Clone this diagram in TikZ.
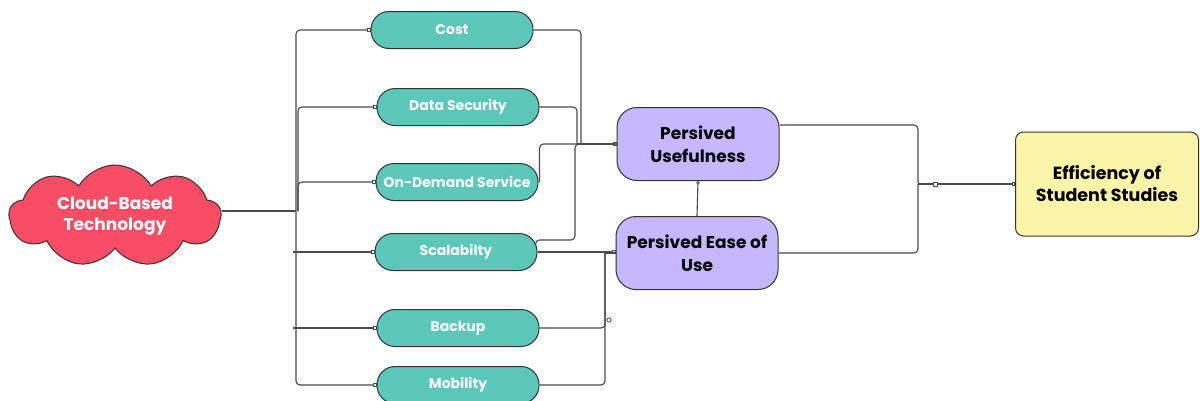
\documentclass[tikz,border=0pt]{standalone}
\usepackage{fontspec}
\setmainfont{Poppins}
\usetikzlibrary{shapes.symbols,arrows.meta,calc}
\definecolor{tealc}{HTML}{5BC8BA}
\definecolor{purp}{HTML}{C5B8FF}
\definecolor{cloudred}{HTML}{F94D66}
\definecolor{yel}{HTML}{FBF5A9}
\definecolor{edge}{HTML}{333333}
\definecolor{wire}{HTML}{4A4A4A}
\tikzset{
  pill/.style={draw=edge, line width=1pt, fill=tealc, rounded corners=18pt,
    minimum width=162pt, minimum height=37pt, inner sep=0pt,
    text=white, font=\bfseries\fontsize{14}{16}\selectfont},
  perc/.style={draw=edge, line width=1pt, fill=purp, rounded corners=20pt,
    minimum width=162pt, minimum height=73pt, inner sep=0pt, align=center,
    text=black, font=\bfseries\fontsize{17}{23}\selectfont},
  outc/.style={draw=edge, line width=1pt, fill=yel, rounded corners=8pt,
    minimum width=183pt, minimum height=104pt, inner sep=0pt, align=center,
    text=black, font=\bfseries\fontsize{17.5}{22}\selectfont},
  conn/.style={draw=wire, line width=1.1pt, rounded corners=4pt},
  tipq/.style={-{Square[open,length=3.5pt,width=3.5pt,line width=0.8pt]}},
}
\begin{document}
\begin{tikzpicture}[x=1pt,y=-1pt]
\useasboundingbox (0,0) rectangle (1200,400);
% nodes
\node[cloud, cloud puffs=9, cloud puff arc=120, cloud ignores aspect,
      minimum width=212pt, minimum height=102pt, draw=edge, line width=1pt,
      fill=cloudred, text=white, align=center, inner sep=0pt,
      font=\bfseries\fontsize{17}{21}\selectfont] (cloud) at (115,216)
      {Cloud-Based\\Technology};
\node[pill] (cost) at (452,30) {Cost};
\node[pill] (ds) at (458,107) {Data Security};
\node[pill] (ods) at (457,182) {On-Demand Service};
\node[pill] (sc) at (456,252) {Scalabilty};
\node[pill] (bk) at (458,328) {Backup};
\node[pill] (mob) at (458,385) {Mobility};
\node[perc] (pu) at (698,144) {Persived\\Usefulness};
\node[perc] (peou) at (697,253) {Persived Ease of\\Use};
\node[outc] (eff) at (1107,184) {Efficiency of\\Student Studies};
% left trunk
\coordinate (tr) at (296,211);
\draw[conn] (cloud.east |- tr) -- (tr);
\draw[conn,tipq] (tr) |- (cost.west);
\draw[conn,tipq] (298,211) |- (ds.west);
\draw[conn,tipq] (298,211) |- (ods.west);
\draw[conn,tipq] (293,252) -- (sc.west);
\draw[conn,tipq] (293,328) -- (bk.west);
\draw[conn,tipq] (tr) |- (mob.west);
% into usefulness
\draw[conn] (cost.east) -| (581,144);
\draw[conn] (ds.east) -| (577,144);
\draw[conn] ($(ods.east)+(1,0)$) |- (pu.west);
\draw[conn] ($(sc.east)+(-2,-6)$) |- (575,240) |- (pu.west);
\draw[conn,tipq] (577,144) -- (pu.west);
% into ease of use
\draw[conn,tipq] (sc.east) -- (sc.east -| peou.west);
\draw[conn] (bk.east) -| (605,253);
\draw[conn] (mob.east) -| (605,253);
\draw[conn] (605,253) -- (peou.west);
\draw[wire, line width=0.8pt, fill=white] (609,320) circle (2.2pt);
% between perceived
\draw[conn,{Circle[open,length=3.5pt,width=3.5pt,line width=0.8pt]}-] (pu.south) -- (peou.north);
% to outcome
\draw[conn] ($(pu.east)+(0,-19)$) -| (918,183);
\draw[conn] (peou.east) -| (918,184);
\draw[conn,tipq] (918,184) -- (eff.west);
\draw[wire, line width=0.8pt, fill=white] (933,182) rectangle (937,186);
\end{tikzpicture}
\end{document}
